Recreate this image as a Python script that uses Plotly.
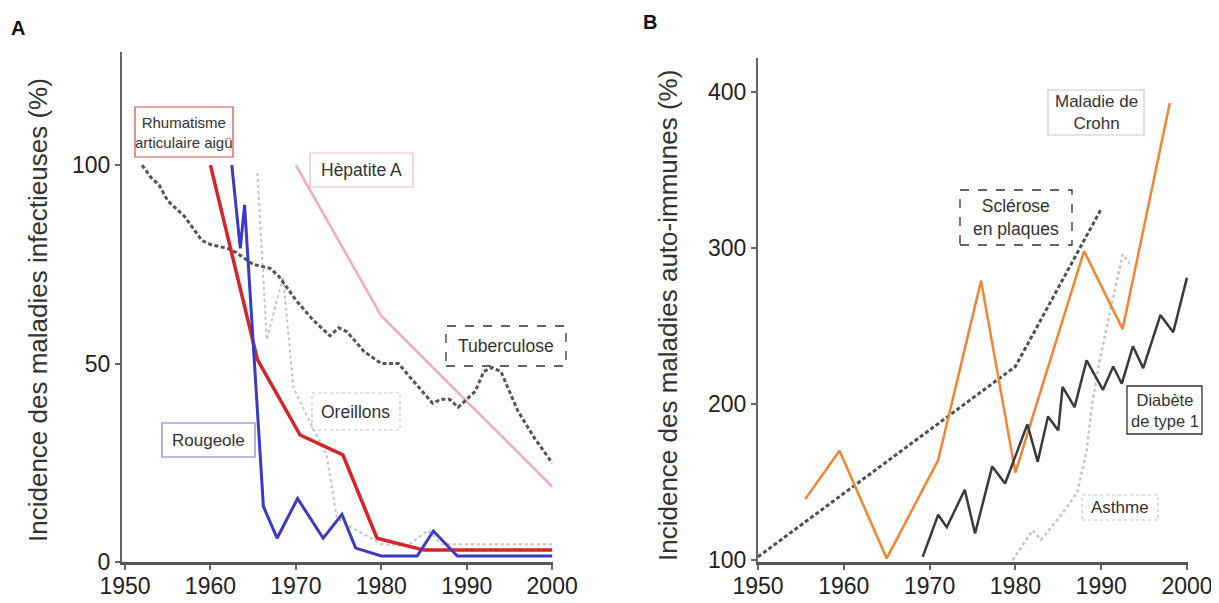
import plotly.graph_objects as go

# The page body has an 8px margin; the figure is sized so it ends at the window edge.
WIN_W, WIN_H = 1219, 603
OFF = 8
W, H = WIN_W - OFF, WIN_H - OFF

# ---------------- Data: panel A (infectious diseases) ----------------
tb_years = [1952, 1953, 1954, 1955, 1956, 1957, 1958, 1959, 1960, 1962, 1963, 1965, 1967, 1968,
            1970, 1972, 1974, 1975, 1976, 1978, 1980, 1982, 1984, 1986, 1987, 1988, 1989, 1991,
            1992, 1993, 1994, 1996, 1998, 2000]
tb_vals = [100, 97, 95, 91, 89, 87, 84, 81, 80, 79, 78, 75, 74, 72,
           66, 61, 57, 59, 58, 53, 50, 50, 45, 40, 41, 41, 39, 43,
           48, 49, 48, 38, 31, 25]

rh_years = [1960, 1965.5, 1970.5, 1975.5, 1979.5, 1985, 2000]
rh_vals = [100, 51, 32, 27, 6, 3, 3]

rg_years = [1962.5, 1963.5, 1964, 1966.2, 1967.8, 1970.2, 1973.2, 1975.4, 1977, 1980,
            1984.2, 1986.1, 1988.9, 2000]
rg_vals = [100, 79, 90, 14, 6, 16, 6, 12, 3.5, 1.5, 1.5, 7.8, 1.5, 1.5]

or_years = [1965.5, 1966.6, 1968.5, 1969.7, 1971.7, 1973.6, 1974.8, 1976.3, 1980, 1983,
            1985.5, 1987, 2000]
or_vals = [98, 56, 72, 44, 35, 27, 11, 9, 4.5, 4, 8, 4.5, 4.5]

hp_years = [1970, 1980, 1990, 2000]
hp_vals = [100, 62, 40.5, 19]

# ---------------- Data: panel B (auto-immune diseases) ----------------
sep_years = [1950, 1980, 1990]
sep_vals = [102, 224, 325]

crohn_years = [1955.5, 1959.5, 1965, 1971, 1976, 1980, 1988, 1992.5, 1998]
crohn_vals = [139, 170, 101, 164, 279, 156, 298, 248, 393]

diab_years = [1969.2, 1971, 1972, 1974.1, 1975.3, 1977.3, 1978.8, 1981.4, 1982.6, 1983.8,
              1985, 1985.5, 1986.9, 1988.3, 1990.2, 1991.4, 1992.4, 1993.7, 1994.9, 1996.9,
              1998.4, 2000]
diab_vals = [102, 129, 121, 145, 117, 160, 149, 187, 163, 192,
             183, 211, 198, 228, 209, 224, 213, 237, 223, 257,
             246, 281]

asth_years = [1979.7, 1982, 1983, 1985.5, 1987.2, 1988.3, 1989, 1989.9, 1991, 1992.5, 1993.3]
asth_vals = [100, 119, 113, 130, 143, 170, 202, 230, 258, 296, 290]

x_ticks = [1950, 1960, 1970, 1980, 1990, 2000]
ya_ticks = [0, 50, 100]
yb_ticks = [100, 200, 300, 400]


def fx(px):
    return (px - OFF) / W


def fy(py):
    return 1 - (py - OFF) / H


FONT = "Liberation Sans, Arial, sans-serif"
fig = go.Figure()


def add(x, y, color, width, dash, xa, ya):
    fig.add_trace(go.Scatter(x=x, y=y, mode="lines",
                             line=dict(color=color, width=width, dash=dash),
                             xaxis=xa, yaxis=ya, showlegend=False, hoverinfo="skip"))


# Panel A
add(or_years, or_vals, "#c4c4c4", 2, "3px,3px", "x", "y")
add(hp_years, hp_vals, "#f2a9c4", 2.5, "solid", "x", "y")
add(tb_years, tb_vals, "#555555", 3, "4px,2.5px", "x", "y")
add(rh_years, rh_vals, "#d8232a", 3.5, "solid", "x", "y")
add(rg_years, rg_vals, "#3a3ac6", 3, "solid", "x", "y")

# Panel B
add(asth_years, asth_vals, "#c4c4c4", 2.5, "3px,3px", "x2", "y2")
add(sep_years, sep_vals, "#505050", 3, "4px,2.5px", "x2", "y2")
add(crohn_years, crohn_vals, "#f58332", 2.5, "solid", "x2", "y2")
add(diab_years, diab_vals, "#3a3a3a", 2.5, "solid", "x2", "y2")

axis_common = dict(showline=True, linecolor="#666666", linewidth=2, ticks="outside",
                   ticklen=5, tickwidth=1.5, tickcolor="#666666", showgrid=False,
                   zeroline=False, automargin=False,
                   tickfont=dict(family=FONT, size=23, color="#222222"))
xaxis_extra = dict(linecolor="#555555", linewidth=2.5, ticklabelstandoff=-3)

fig.update_layout(
    width=W, height=H, margin=dict(l=0, r=0, t=0, b=0, pad=0, autoexpand=False),
    paper_bgcolor="white", plot_bgcolor="white",
    xaxis=dict(domain=[fx(122), fx(553)], range=[1949.65, 2000.1], anchor="y",
               tickvals=x_ticks, **{**axis_common, **xaxis_extra}),
    yaxis=dict(domain=[fy(562), fy(52)], range=[0, 128.5], anchor="x",
               tickvals=ya_ticks, **axis_common),
    xaxis2=dict(domain=[fx(758), fx(1188)], range=[1950, 2000.12], anchor="y2",
                tickvals=x_ticks, **{**axis_common, **xaxis_extra}),
    yaxis2=dict(domain=[fy(562), fy(58)], range=[98.7, 421.8], anchor="x2",
                tickvals=yb_ticks, **axis_common),
)

# Label boxes (pixel boxes: x0, y0, x1, y1) and font size
boxes = [
    ("Rhumatisme<br>articulaire aigü", (135, 107, 233, 157), "#d84a4a", 1.2, "solid", 15),
    ("Hèpatite A", (310, 153, 413, 187), "#f2b8cc", 1.2, "solid", 17.5),
    ("Tuberculose", (446, 326, 566, 366), "#333333", 1.3, "dash", 17.5),
    ("Oreillons", (312, 393, 400, 430), "#c4c4c4", 1.2, "dot", 17.5),
    ("Rougeole", (162, 423, 255, 457), "#7b7bc4", 1.2, "solid", 17),
    ("Maladie de<br>Crohn", (1048, 90, 1144, 135), "#cccccc", 1.2, "solid", 17),
    ("Sclérose<br>en plaques", (960, 190, 1072, 245), "#333333", 1.3, "dash", 17.5),
    ("Diabète<br>de type 1", (1127, 386, 1202, 434), "#333333", 1.3, "solid", 16.5),
    ("Asthme", (1082, 495, 1158, 520), "#c4c4c4", 1.2, "dot", 17),
]
for text, (x0, y0, x1, y1), col, lw, dash, fs in boxes:
    fig.add_shape(type="rect", xref="paper", yref="paper",
                  x0=fx(x0), x1=fx(x1), y0=fy(y1), y1=fy(y0),
                  line=dict(color=col, width=lw, dash=dash), fillcolor="rgba(0,0,0,0)")
    fig.add_annotation(xref="paper", yref="paper", x=fx((x0 + x1) / 2), y=fy((y0 + y1) / 2),
                       text=text, showarrow=False, xanchor="center", yanchor="middle",
                       font=dict(family=FONT, size=fs, color="#333333"))

# Axis titles
fig.add_annotation(xref="paper", yref="paper", x=fx(38), y=fy(310), textangle=-90,
                   text="Incidence des maladies infectieuses (%)", showarrow=False,
                   xanchor="center", yanchor="middle",
                   font=dict(family=FONT, size=26, color="#333333"))
fig.add_annotation(xref="paper", yref="paper", x=fx(668), y=fy(316), textangle=-90,
                   text="Incidence des maladies auto-immunes (%)", showarrow=False,
                   xanchor="center", yanchor="middle",
                   font=dict(family=FONT, size=26, color="#333333"))

# Panel letters
fig.add_annotation(xref="paper", yref="paper", x=fx(18), y=fy(28), text="<b>A</b>",
                   showarrow=False, xanchor="center", yanchor="middle",
                   font=dict(family=FONT, size=20, color="#111111"))
fig.add_annotation(xref="paper", yref="paper", x=fx(650), y=fy(22), text="<b>B</b>",
                   showarrow=False, xanchor="center", yanchor="middle",
                   font=dict(family=FONT, size=20, color="#111111"))

fig.write_html("out.html")
